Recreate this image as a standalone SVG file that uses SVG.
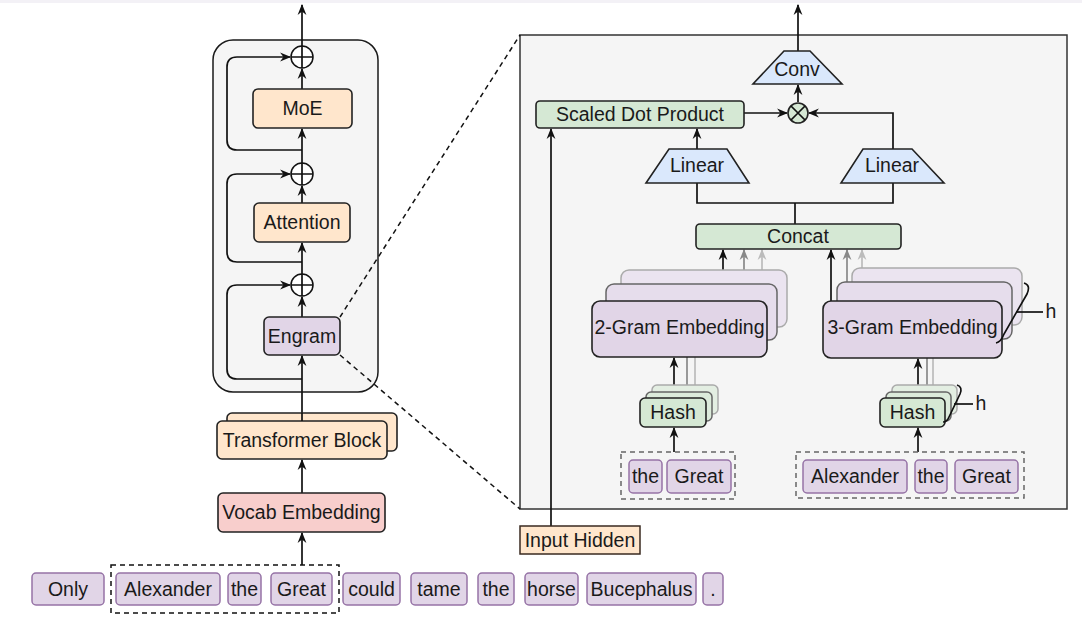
<svg xmlns="http://www.w3.org/2000/svg" width="1082" height="630" viewBox="0 0 1082 630">
<style>
text{font-family:"Liberation Sans",Arial,sans-serif;font-size:19.5px;fill:#1a1a1a;text-anchor:middle}
.ln{fill:none;stroke:#111;stroke-width:1.7}
.peach{fill:#ffe6cc;stroke:#222;stroke-width:1.6}
.red{fill:#f8cecc;stroke:#222;stroke-width:1.6}
.pur{fill:#e1d5e7;stroke:#222;stroke-width:1.6}
.grn{fill:#d5e8d4;stroke:#222;stroke-width:1.6}
.blu{fill:#dae8fc;stroke:#222;stroke-width:1.6}
.tok{fill:#e1d5e7;stroke:#9673a6;stroke-width:1.5}
.dash{fill:none;stroke:#111;stroke-width:1.5;stroke-dasharray:5 4}
.gdash{fill:none;stroke:#666;stroke-width:1.5;stroke-dasharray:5 4}
</style>
<defs>
<marker id="ah" viewBox="0 0 10 10" refX="9" refY="5" markerWidth="11" markerHeight="11" markerUnits="userSpaceOnUse" orient="auto"><path d="M0,1 L10,5 L0,9 L3,5 z" fill="#111"/></marker>
<marker id="ah2" viewBox="0 0 10 10" refX="9" refY="5" markerWidth="11" markerHeight="11" markerUnits="userSpaceOnUse" orient="auto"><path d="M0,1 L10,5 L0,9 L3,5 z" fill="#888"/></marker>
<marker id="ah3" viewBox="0 0 10 10" refX="9" refY="5" markerWidth="11" markerHeight="11" markerUnits="userSpaceOnUse" orient="auto"><path d="M0,1 L10,5 L0,9 L3,5 z" fill="#bbb"/></marker>
</defs>
<rect x="0" y="0" width="1082" height="630" fill="#fff"/>
<rect x="0" y="0" width="1082" height="3" fill="#f3f1f6"/>

<g id="left-panel"><rect x="213" y="40" width="165" height="352" rx="20" fill="#f5f5f5" stroke="#1a1a1a" stroke-width="1.5"/></g>
<g id="right-panel"><rect x="520" y="35" width="547" height="474" fill="#f5f5f5" stroke="#333" stroke-width="1.5"/></g>

<g id="connectors">
<line x1="340" y1="317" x2="520" y2="35" class="dash"/>
<line x1="340" y1="355" x2="520" y2="509" class="dash"/>
<line x1="302" y1="565" x2="302" y2="533" class="ln" marker-end="url(#ah)"/>
<line x1="302" y1="493" x2="302" y2="460" class="ln" marker-end="url(#ah)"/>
<line x1="302" y1="421" x2="302" y2="356" class="ln" marker-end="url(#ah)"/>
<line x1="302" y1="317" x2="302" y2="297" class="ln" marker-end="url(#ah)"/>
<line x1="302" y1="274" x2="302" y2="243" class="ln" marker-end="url(#ah)"/>
<line x1="302" y1="203" x2="302" y2="186" class="ln" marker-end="url(#ah)"/>
<line x1="302" y1="163" x2="302" y2="129" class="ln" marker-end="url(#ah)"/>
<line x1="302" y1="89" x2="302" y2="69" class="ln" marker-end="url(#ah)"/>
<line x1="302" y1="46" x2="302" y2="5" class="ln" marker-end="url(#ah)"/>
<path d="M302,379 H237 Q227,379 227,369 V295 Q227,285 237,285 H290" class="ln" marker-end="url(#ah)"/>
<path d="M302,262 H237 Q227,262 227,252 V184 Q227,174 237,174 H290" class="ln" marker-end="url(#ah)"/>
<path d="M302,150 H237 Q227,150 227,140 V67 Q227,57 237,57 H290" class="ln" marker-end="url(#ah)"/>
<line x1="798" y1="51" x2="798" y2="5" class="ln" marker-end="url(#ah)"/>
<line x1="798" y1="102" x2="798" y2="85" class="ln" marker-end="url(#ah)"/>
<line x1="744" y1="113" x2="787" y2="113" class="ln" marker-end="url(#ah)"/>
<path d="M893,149 V113 H809" class="ln" marker-end="url(#ah)"/>
<line x1="697" y1="149" x2="697" y2="129" class="ln" marker-end="url(#ah)"/>
<path d="M697,183 V203 H893 V183" class="ln"/>
<line x1="795" y1="224" x2="795" y2="203" class="ln"/>
<line x1="551" y1="526" x2="551" y2="129" class="ln" marker-end="url(#ah)"/>
<line x1="762" y1="270" x2="762" y2="250" stroke="#bbb" stroke-width="1.7" marker-end="url(#ah3)"/>
<line x1="744" y1="284" x2="744" y2="250" stroke="#888" stroke-width="1.7" marker-end="url(#ah2)"/>
<line x1="723" y1="301" x2="723" y2="250" class="ln" marker-end="url(#ah)"/>
<line x1="862" y1="268" x2="862" y2="250" stroke="#bbb" stroke-width="1.7" marker-end="url(#ah3)"/>
<line x1="847" y1="282" x2="847" y2="250" stroke="#888" stroke-width="1.7" marker-end="url(#ah2)"/>
<line x1="831" y1="301" x2="831" y2="250" class="ln" marker-end="url(#ah)"/>
<line x1="695" y1="385" x2="695" y2="357" stroke="#bbb" stroke-width="1.7"/>
<line x1="687" y1="392" x2="687" y2="357" stroke="#888" stroke-width="1.7"/>
<line x1="674" y1="398" x2="674" y2="358" class="ln" marker-end="url(#ah)"/>
<line x1="933" y1="385" x2="933" y2="358" stroke="#bbb" stroke-width="1.7"/>
<line x1="927" y1="392" x2="927" y2="358" stroke="#888" stroke-width="1.7"/>
<line x1="918" y1="398" x2="918" y2="359" class="ln" marker-end="url(#ah)"/>
<line x1="674" y1="452" x2="674" y2="428" class="ln" marker-end="url(#ah)"/>
<line x1="918" y1="452" x2="918" y2="428" class="ln" marker-end="url(#ah)"/>
</g>

<g id="moe"><rect x="253" y="89" width="99" height="39" rx="5" class="peach"/><text x="302.5" y="115">MoE</text></g>
<g id="attention"><rect x="254" y="203" width="96" height="39" rx="5" class="peach"/><text x="302" y="229">Attention</text></g>
<g id="engram"><rect x="264" y="317" width="76" height="38" rx="5" class="pur"/><text x="302" y="343">Engram</text></g>
<g id="add1"><circle cx="302" cy="57" r="11" fill="#fff" stroke="#111" stroke-width="1.5"/><path d="M291,57 H313 M302,46 V68" class="ln"/></g>
<g id="add2"><circle cx="302" cy="174" r="11" fill="#fff" stroke="#111" stroke-width="1.5"/><path d="M291,174 H313 M302,163 V185" class="ln"/></g>
<g id="add3"><circle cx="302" cy="285" r="11" fill="#fff" stroke="#111" stroke-width="1.5"/><path d="M291,285 H313 M302,274 V296" class="ln"/></g>
<g id="transformer-block"><rect x="227" y="413" width="170" height="38" rx="5" class="peach"/><rect x="217" y="421" width="170" height="38" rx="5" class="peach"/><line x1="302" y1="413" x2="302" y2="421" class="ln"/><text x="302" y="447">Transformer Block</text></g>
<g id="vocab-embedding"><rect x="218" y="493" width="167" height="39" rx="5" class="red"/><text x="301.5" y="519">Vocab Embedding</text></g>

<g id="tokens">
<rect x="111" y="565" width="228" height="48" class="dash"/>
<rect x="32" y="573" width="72" height="32" rx="4" class="tok"/><text x="68" y="596">Only</text>
<rect x="116" y="573" width="104" height="32" rx="4" class="tok"/><text x="168" y="596">Alexander</text>
<rect x="228" y="573" width="33" height="32" rx="4" class="tok"/><text x="244.5" y="596">the</text>
<rect x="271" y="573" width="61" height="32" rx="4" class="tok"/><text x="301.5" y="596">Great</text>
<rect x="343" y="573" width="57" height="32" rx="4" class="tok"/><text x="371.5" y="596">could</text>
<rect x="411" y="573" width="56" height="32" rx="4" class="tok"/><text x="439" y="596">tame</text>
<rect x="478" y="573" width="36" height="32" rx="4" class="tok"/><text x="496" y="596">the</text>
<rect x="525" y="573" width="53" height="32" rx="4" class="tok"/><text x="551.5" y="596">horse</text>
<rect x="587" y="573" width="109" height="32" rx="4" class="tok"/><text x="641.5" y="596">Bucephalus</text>
<rect x="703" y="573" width="20" height="32" rx="4" class="tok"/><text x="713" y="596">.</text>
</g>

<g id="input-hidden"><rect x="520" y="526" width="120" height="28" fill="#ffe6cc" stroke="#3a2a20" stroke-width="1.5"/><text x="580" y="547">Input Hidden</text></g>
<g id="conv"><path d="M784,51 H810 L842,84 H753 Z" class="blu"/><text x="797" y="76">Conv</text></g>
<g id="mult"><circle cx="798" cy="113" r="10" class="grn"/><path d="M791,106 L805,120 M805,106 L791,120" class="ln"/></g>
<g id="scaled-dot-product"><rect x="536" y="101" width="208" height="27" rx="4" class="grn"/><text x="640" y="121">Scaled Dot Product</text></g>
<g id="linear-left"><path d="M669,149 H727 L749,183 H646 Z" class="blu"/><text x="697" y="172">Linear</text></g>
<g id="linear-right"><path d="M863,149 H912 L944,183 H841 Z" class="blu"/><text x="892" y="172">Linear</text></g>
<g id="concat"><rect x="696" y="224" width="205" height="25" rx="4" class="grn"/><text x="798" y="243">Concat</text></g>

<g id="gram2">
<rect x="621" y="270" width="166" height="57" rx="8" fill="#ebe4f0" stroke="#aaa" stroke-width="1.5"/>
<rect x="606" y="284" width="171" height="56" rx="8" fill="#e6ddec" stroke="#666" stroke-width="1.5"/>
<rect x="592" y="301" width="175" height="56" rx="8" class="pur"/>
<text x="679.5" y="334">2-Gram Embedding</text>
</g>
<g id="gram3">
<rect x="852" y="268" width="170" height="57" rx="8" fill="#ebe4f0" stroke="#aaa" stroke-width="1.5"/>
<rect x="837" y="282" width="175" height="57" rx="8" fill="#e6ddec" stroke="#666" stroke-width="1.5"/>
<rect x="823" y="301" width="179" height="57" rx="8" class="pur"/>
<text x="912.5" y="334">3-Gram Embedding</text>
<path d="M1024,283 Q1031,285 1027,294 L1004,334 Q1001,342 996,343" class="ln"/>
<line x1="1016" y1="312" x2="1043" y2="312" class="ln"/>
<text x="1051" y="318">h</text>
</g>
<g id="hash2">
<rect x="652" y="385" width="66" height="29" rx="5" fill="#e3eee2" stroke="#aaa" stroke-width="1.5"/>
<rect x="646" y="392" width="66" height="29" rx="5" fill="#dcebdb" stroke="#666" stroke-width="1.5"/>
<rect x="640" y="398" width="66" height="29" rx="5" class="grn"/>
<text x="673" y="419">Hash</text>
</g>
<g id="hash3">
<rect x="892" y="385" width="65" height="29" rx="5" fill="#e3eee2" stroke="#aaa" stroke-width="1.5"/>
<rect x="886" y="392" width="65" height="29" rx="5" fill="#dcebdb" stroke="#666" stroke-width="1.5"/>
<rect x="880" y="398" width="65" height="29" rx="5" class="grn"/>
<text x="912.5" y="419">Hash</text>
<path d="M957,385 Q963,387 960,394 L949,417 Q947,422 943,422" class="ln"/>
<line x1="954" y1="404" x2="973" y2="404" class="ln"/>
<text x="981" y="410">h</text>
</g>
<g id="tokens-2gram">
<rect x="621" y="452" width="114" height="47" class="gdash"/>
<rect x="629" y="460" width="33" height="33" rx="4" class="tok"/><text x="645.5" y="483">the</text>
<rect x="667" y="460" width="64" height="33" rx="4" class="tok"/><text x="699" y="483">Great</text>
</g>
<g id="tokens-3gram">
<rect x="796" y="452" width="228" height="46" class="gdash"/>
<rect x="803" y="460" width="104" height="33" rx="4" class="tok"/><text x="855" y="483">Alexander</text>
<rect x="915" y="460" width="32" height="33" rx="4" class="tok"/><text x="931" y="483">the</text>
<rect x="955" y="460" width="63" height="33" rx="4" class="tok"/><text x="986.5" y="483">Great</text>
</g>
</svg>
